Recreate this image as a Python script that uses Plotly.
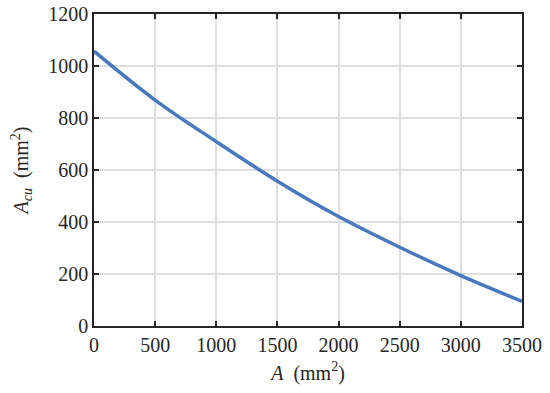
import plotly.graph_objects as go

area_A = [0, 500, 1000, 1500, 2000, 2500, 3000, 3500]
area_Acu = [1057, 869, 709, 557, 421, 303, 194, 95]
x_ticks = [0, 500, 1000, 1500, 2000, 2500, 3000, 3500]
y_ticks = [0, 200, 400, 600, 800, 1000, 1200]

fig = go.Figure()
fig.add_trace(go.Scatter(
    x=area_A, y=area_Acu, mode="lines",
    line=dict(color="#4878BE", width=3.5, shape="spline", smoothing=1.0),
    showlegend=False,
))

font = dict(family="Liberation Serif, Times New Roman, serif", size=20, color="#262626")
axis_common = dict(
    showline=True, linecolor="#262626", linewidth=1.6, mirror="ticks",
    ticks="inside", ticklen=5, tickwidth=1.6, tickcolor="#262626",
    showgrid=True, gridcolor="#DEDEDE", gridwidth=1.6, zeroline=False,
    tickfont=font, automargin=False,
)
fig.update_layout(
    width=550, height=393,
    margin=dict(l=94, r=28, t=14, b=67),
    paper_bgcolor="white", plot_bgcolor="white",
    font=font,
    xaxis=dict(range=[0, 3500], tickvals=x_ticks,
               title=dict(text="<i>A</i>  (mm<sup>2</sup>)", font=font, standoff=11),
               **axis_common),
    yaxis=dict(range=[0, 1200], tickvals=y_ticks,
               title=dict(text="<i>A</i><sub><i>cu</i></sub>  (mm<sup>2</sup>)", font=font, standoff=14),
               **axis_common),
)
fig.write_html("out.html", config={"displayModeBar": False},
               post_script="document.body.style.margin='0px';document.body.style.overflow='hidden';")
